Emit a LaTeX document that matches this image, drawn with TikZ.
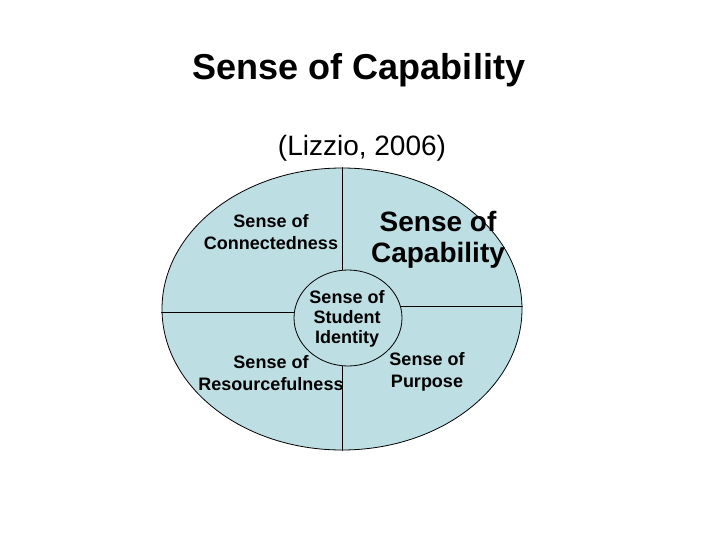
\documentclass[tikz,border=0pt]{standalone}
\usepackage{fontspec}
\setmainfont{Liberation Sans}
\usetikzlibrary{shapes.geometric}
\definecolor{paleblue}{RGB}{189,222,227}
\begin{document}
\begin{tikzpicture}[x=1pt, y=-1pt, line cap=round, line join=round, line width=0.8pt]
	\tikzset{disc/.style={draw, ellipse, fill=paleblue, inner sep=0pt},
		label small/.style={font=\fontsize{18}{22}\selectfont\bfseries, align=center, inner sep=0pt},
		label big/.style={font=\fontsize{28}{31}\selectfont\bfseries, align=center, inner sep=0pt}}
	\useasboundingbox (0,0) rectangle (720,540);
	\node[anchor=base, font=\fontsize{36}{42}\selectfont\bfseries] (title) at (359,80) {Sense of Capability};
	\node[anchor=base, font=\fontsize{28}{34}\selectfont] (source) at (362,156) {(Lizzio, 2006)};
	\node[disc, minimum width=360pt, minimum height=282pt] (outer) at (342,309) {};
	\draw (outer.north) -- (outer.south);
	\draw ([yshift=-3pt]outer.west) -- ([yshift=-3pt]outer.west -| outer.center);
	\draw ([yshift=3pt]outer.east) -- ([yshift=3pt]outer.east -| outer.center);
	\node[disc, minimum width=108pt, minimum height=96pt] (inner) at (348,318) {};
	\node[label small] (connect) at (271,231.6) {Sense of\\Connectedness};
	\node[label big] (capable) at (438,240.2) {Sense of\\Capability};
	\node[label small, font=\fontsize{18}{20}\selectfont\bfseries] (identity) at (347,318.5) {Sense of\\Student\\Identity};
	\node[label small] (resource) at (271,372.6) {Sense of\\Resourcefulness};
	\node[label small] (purpose) at (427,371.5) {Sense of\\Purpose};
\end{tikzpicture}
\end{document}
